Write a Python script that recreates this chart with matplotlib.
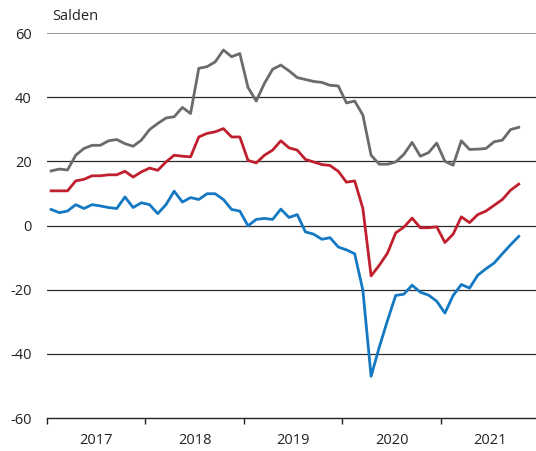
import numpy as np
import matplotlib
matplotlib.use("Agg")
import matplotlib.pyplot as plt

plt.rcParams['font.family'] = ['Open Sans', 'DejaVu Sans']
plt.rcParams['axes.unicode_minus'] = False

# monatliche Salden, Jan 2017 bis Okt 2021
grau = [17.0, 17.6, 17.3, 21.9, 24.0, 25.0, 25.0, 26.4, 26.8, 25.5, 24.7, 26.6,
        29.9, 31.8, 33.5, 33.9, 36.8, 34.9, 49.0, 49.5, 51.0, 54.7, 52.6, 53.6,
        43.0, 38.8, 44.3, 48.7, 50.0, 48.2, 46.1, 45.5, 44.9, 44.6, 43.7, 43.5,
        38.2, 38.8, 34.4, 21.9, 19.1, 19.1, 19.8, 22.2, 25.9, 21.6, 22.7, 25.7,
        20.0, 18.8, 26.4, 23.7, 23.8, 24.0, 26.1, 26.6, 29.9, 30.6]
rot = [10.8, 10.8, 10.8, 13.9, 14.4, 15.5, 15.5, 15.8, 15.8, 16.9, 15.1, 16.7,
       17.9, 17.2, 19.8, 21.9, 21.6, 21.4, 27.6, 28.7, 29.2, 30.2, 27.6, 27.6,
       20.3, 19.5, 21.9, 23.5, 26.4, 24.2, 23.5, 20.6, 19.8, 19.0, 18.7, 16.9,
       13.5, 13.9, 5.3, -15.7, -12.4, -8.6, -2.3, -0.5, 2.3, -0.7, -0.7, -0.4,
       -5.3, -2.7, 2.7, 0.9, 3.4, 4.5, 6.3, 8.1, 11.0, 12.9]
blau = [5.0, 4.0, 4.5, 6.5, 5.3, 6.5, 6.1, 5.6, 5.3, 8.9, 5.6, 7.1,
        6.5, 3.7, 6.5, 10.7, 7.3, 8.7, 8.1, 9.9, 9.9, 8.1, 5.0, 4.5,
        -0.1, 1.9, 2.2, 1.9, 5.1, 2.5, 3.4, -2.0, -2.7, -4.3, -3.8, -6.7,
        -7.6, -8.8, -20.2, -47.0, -37.9, -29.6, -21.8, -21.4, -18.6, -20.8, -21.7, -23.6,
        -27.3, -21.8, -18.4, -19.5, -15.5, -13.5, -11.7, -8.8, -6.0, -3.4]
jahre = ['2017', '2018', '2019', '2020', '2021']

x = np.arange(len(grau)) + 0.5

fig = plt.figure(figsize=(5.36, 4.51), dpi=100)
ax = fig.add_axes([47 / 536, 33 / 451, 1 - 47 / 536, 385 / 451])

for y in [-40, -20, 0, 20, 40]:
    ax.axhline(y, color='#2b2b2b', lw=0.9, zorder=1)
ax.axhline(60, color='#8a8a8a', lw=1.2, zorder=1)

ax.plot(x, grau, color='#6b6b6b', lw=2.0, zorder=3)
ax.plot(x, rot, color='#c0202e', lw=2.0, zorder=3)
ax.plot(x, blau, color='#1478c2', lw=2.0, zorder=3)

ax.set_xlim(0, 59.6)
ax.set_ylim(-60, 60)

for s in ['top', 'right', 'left']:
    ax.spines[s].set_visible(False)
ax.spines['bottom'].set_color('#222222')
ax.spines['bottom'].set_linewidth(1.0)

ax.set_xticks([0, 12, 24, 36, 48])
ax.set_xticklabels([])
ax.set_xticks([6, 18, 30, 42, 54], minor=True)
ax.set_xticklabels(jahre, minor=True)
ax.tick_params(axis='x', which='major', direction='out', length=4.5, width=1.0, color='#222222')
ax.tick_params(axis='x', which='minor', length=0, pad=10.5, labelsize=10.5, labelcolor='#222222')

ax.set_yticks([-60, -40, -20, 0, 20, 40, 60])
ax.tick_params(axis='y', length=0, pad=11, labelsize=10.5, labelcolor='#222222')

fig.text(52 / 536, 1 - 17 / 451, 'Salden', fontsize=10.5, color='#222222', va='center', ha='left')

fig.savefig('out.png', dpi=100)
